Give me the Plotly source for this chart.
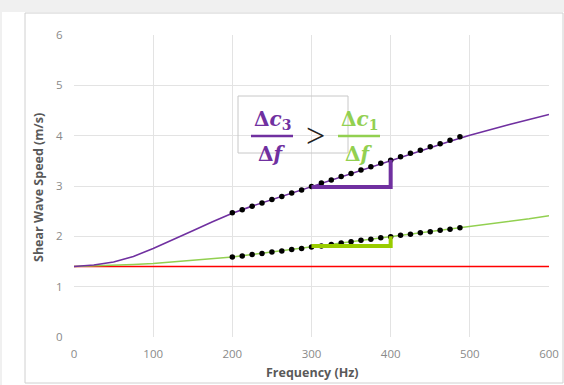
import plotly.graph_objects as go

# ---- data ----
freq = [0, 25, 50, 75, 100, 125, 150, 175, 200, 225, 250, 275, 300, 325, 350,
        375, 400, 425, 450, 475, 500, 525, 550, 575, 600]
c3 = [1.40, 1.43, 1.49, 1.60, 1.76, 1.93, 2.11, 2.29, 2.46, 2.60, 2.73, 2.86, 2.99,
      3.12, 3.25, 3.38, 3.51, 3.64, 3.77, 3.89, 4.01, 4.12, 4.22, 4.32, 4.42]
c1 = [1.40, 1.41, 1.42, 1.44, 1.46, 1.49, 1.52, 1.55, 1.59, 1.64, 1.69, 1.74, 1.79,
      1.84, 1.89, 1.94, 1.99, 2.04, 2.09, 2.14, 2.19, 2.24, 2.30, 2.35, 2.41]
c0 = [1.40] * len(freq)

dot_freq = [200, 212.5, 225, 237.5, 250, 262.5, 275, 287.5, 300, 312.5, 325, 337.5,
            350, 362.5, 375, 387.5, 400, 412.5, 425, 437.5, 450, 462.5, 475, 487.5]
dots_c3 = [2.47, 2.53, 2.60, 2.66, 2.73, 2.79, 2.86, 2.92, 2.99, 3.06, 3.12, 3.19,
           3.25, 3.32, 3.38, 3.45, 3.51, 3.58, 3.65, 3.71, 3.78, 3.84, 3.91, 3.98]
dots_c1 = [1.59, 1.61, 1.64, 1.66, 1.69, 1.71, 1.74, 1.76, 1.79, 1.81, 1.84, 1.87,
           1.89, 1.92, 1.94, 1.97, 1.99, 2.02, 2.04, 2.07, 2.09, 2.12, 2.14, 2.17]

tri_x = [300, 400, 400]
tri_c3 = [2.98, 2.98, 3.52]
tri_c1 = [1.81, 1.81, 2.00]

x_ticks = [0, 100, 200, 300, 400, 500, 600]
y_ticks = [0, 1, 2, 3, 4, 5, 6]

PURPLE = "#7030A0"
GREEN = "#92D050"
GREEN_T = "#99CC00"
RED = "#FF0000"

fig = go.Figure()
fig.add_trace(go.Scatter(x=freq, y=c0, mode="lines", line=dict(color=RED, width=1.6)))
fig.add_trace(go.Scatter(x=freq, y=c1, mode="lines", line=dict(color=GREEN, width=1.6)))
fig.add_trace(go.Scatter(x=freq, y=c3, mode="lines", line=dict(color=PURPLE, width=1.6)))
fig.add_trace(go.Scatter(x=dot_freq, y=dots_c3, mode="markers",
                         marker=dict(color="black", size=5.5)))
fig.add_trace(go.Scatter(x=dot_freq, y=dots_c1, mode="markers",
                         marker=dict(color="black", size=5.5)))
fig.add_trace(go.Scatter(x=tri_x, y=tri_c3, mode="lines",
                         line=dict(color=PURPLE, width=4)))
fig.add_trace(go.Scatter(x=tri_x, y=tri_c1, mode="lines",
                         line=dict(color=GREEN_T, width=4)))

# plot area target: px x 74..549, y 35..337
L, R, T, B = 74, 15, 35, 48
W, H = 564, 385
pw, ph = W - L - R, H - T - B


def px(x):
    return (x - L) / pw


def py(y):
    return (H - B - y) / ph


shapes = [
    dict(type="rect", xref="paper", yref="paper", x0=px(0), x1=px(W), y0=py(0), y1=py(12),
         fillcolor="#f0f0f0", line=dict(width=0), layer="below"),
    dict(type="rect", xref="paper", yref="paper", x0=px(0), x1=px(2), y0=py(0), y1=py(H),
         fillcolor="#f0f0f0", line=dict(width=0), layer="below"),
    dict(type="rect", xref="paper", yref="paper", x0=px(25), x1=px(563), y0=py(13), y1=py(383),
         fillcolor="rgba(0,0,0,0)", line=dict(color="#d0d0d0", width=1), layer="below"),
    dict(type="rect", xref="paper", yref="paper", x0=px(238), x1=px(348), y0=py(96), y1=py(153),
         fillcolor="rgba(255,255,255,0)", line=dict(color="#c8c8c8", width=1)),
    dict(type="line", xref="paper", yref="paper", x0=px(251), x1=px(293), y0=py(136), y1=py(136),
         line=dict(color=PURPLE, width=2.5)),
    dict(type="line", xref="paper", yref="paper", x0=px(338), x1=px(380), y0=py(136), y1=py(136),
         line=dict(color=GREEN, width=2.5)),
]

MF = dict(family="DejaVu Serif", size=20)
anns = [
    dict(x=px(272), y=py(120), text="<b>Δ<i>c</i><sub>3</sub></b>", font=dict(color=PURPLE, **MF)),
    dict(x=px(272), y=py(154), text="<b>Δ<i>f</i></b>", font=dict(color=PURPLE, **MF)),
    dict(x=px(315), y=py(135), text=">", font=dict(color="#222222", family="Liberation Serif", size=34)),
    dict(x=px(359), y=py(120), text="<b>Δ<i>c</i><sub>1</sub></b>", font=dict(color=GREEN, **MF)),
    dict(x=px(359), y=py(154), text="<b>Δ<i>f</i></b>", font=dict(color=GREEN, **MF)),
    dict(x=px(38), y=py(188), text="<b>Shear Wave Speed (m/s)</b>", textangle=-90,
         font=dict(color="#595959", family="Open Sans", size=12.5)),
    dict(x=px(312), y=py(372), text="<b>Frequency (Hz)</b>",
         font=dict(color="#595959", family="Open Sans", size=12.5)),
]
for a in anns:
    a.update(xref="paper", yref="paper", showarrow=False, xanchor="center", yanchor="middle")

TF = dict(family="Open Sans", size=11.5, color="#8a8a8a")
fig.update_layout(
    width=W, height=H,
    margin=dict(l=L, r=R, t=T, b=B, autoexpand=False),
    paper_bgcolor="white", plot_bgcolor="white",
    showlegend=False,
    shapes=shapes, annotations=anns,
    xaxis=dict(range=[0, 600], tickvals=x_ticks, showgrid=True, gridcolor="#e3e3e3",
               gridwidth=1, zeroline=False, showline=False, ticks="outside", ticklen=6,
               tickcolor="rgba(0,0,0,0)", automargin=False, tickfont=TF),
    yaxis=dict(range=[0, 6], tickvals=y_ticks, showgrid=True, gridcolor="#e3e3e3",
               gridwidth=1, zeroline=False, showline=False, ticks="outside", ticklen=8,
               tickcolor="rgba(0,0,0,0)", automargin=False, tickfont=TF),
)
fig.write_html("out.html", config={"displayModeBar": False},
               post_script="document.body.style.margin='0';document.body.style.overflow='hidden';")
